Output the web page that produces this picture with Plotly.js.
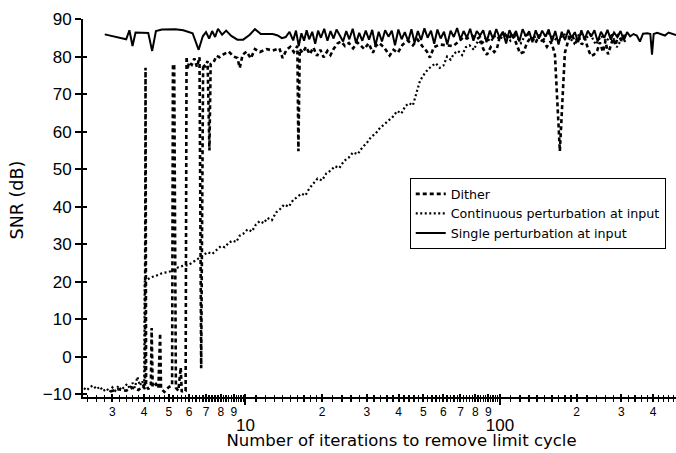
<!DOCTYPE html>
<html>
<head>
<meta charset="utf-8">
<script src="https://cdn.plot.ly/plotly-3.0.1.min.js"></script>
<style>html,body{margin:0;padding:0;background:#fff;}#chart{width:676px;height:453px;}</style>
</head>
<body>
<div id="chart"></div>
<script>
// ---- Data ----
const seriesNames = ["Dither", "Continuous perturbation at input", "Single perturbation at input"];

const ditherX = [2.95,3.15,3.4,3.6,3.8,3.95,4.03,4.05,4.07,4.15,4.25,4.28,4.32,4.45,4.55,4.62,4.66,4.8,5.0,5.15,5.19,5.25,5.33,5.45,5.57,5.62,5.75,5.82,5.87,5.92,6.0,6.15,6.3,6.45,6.6,6.7,6.82,6.95,7.1,7.22,7.3,7.5,7.7,7.9,8.2,8.6,9.0,9.3,9.5,9.75,10.1,10.5,10.9,11.4,12.1,12.8,13.6,14.0,14.5,15.0,15.5,16.0,16.15,16.35,16.8,17.3,17.9,18.5,19.1,19.7,20.3,21.0,21.6,22.2,23.0,23.8,24.6,25.5,26.5,27.5,28.3,29.3,30.5,31.7,32.5,33.5,35.0,36.9,38.2,39.7,41.5,43.5,45.5,47.5,49.5,51.7,53.1,55.0,58.1,61.5,65.4,69.0,72.0,74.2,78.0,81.0,83.5,86.0,88.9,92.0,95.0,97.3,100,104,108,112,116,120,124,128,133,138,143,148,153,158,162,164.5,172,180,186,192,198,204,210,216,222,228,234,241,247,254,260,266,271,278,285,292,300,308,318];
const ditherY = [-9.2,-8.6,-9.0,-8.2,-8.8,-7.8,-8.5,77.0,-7.0,-8.6,-7.4,7.7,-8.0,-7.2,-8.3,6.3,-8.5,-9.3,-8.0,-7.6,78.0,77.5,-8.2,-9.0,-2.8,-9.3,-8.6,-8.8,80.0,76.5,78.5,77.8,79.5,77.2,79.8,-3.0,78.0,77.2,78.8,55.0,78.0,78.5,80.2,79.8,80.6,81.3,80.0,79.6,77.0,80.5,81.3,79.5,82.0,81.2,82.0,81.6,82.2,79.6,81.8,82.6,81.2,82.8,54.8,82.0,81.0,82.6,80.6,82.4,80.2,81.8,79.8,81.5,80.4,82.0,83.5,84.0,82.8,83.6,82.2,83.8,83.0,82.0,83.5,81.0,82.8,83.6,82.5,80.3,81.8,81.0,83.2,84.2,83.0,84.5,82.8,81.3,79.7,82.5,83.2,83.0,82.8,84.0,85.2,84.8,85.5,84.6,85.2,82.0,80.5,82.5,81.2,82.0,85.5,86.5,84.6,86.2,83.5,80.8,81.2,83.8,85.2,83.6,85.8,84.2,82.6,84.0,82.2,80.5,54.8,81.0,84.5,85.8,83.6,85.2,83.2,84.8,82.0,80.2,80.5,81.5,83.8,81.2,84.2,80.6,82.4,84.8,83.0,86.0,84.2,85.5,84.8];

const contX = [2.32,2.38,2.45,2.52,2.6,2.68,2.76,2.85,2.93,3.0,3.08,3.17,3.25,3.34,3.43,3.52,3.6,3.68,3.76,3.85,3.93,4.0,4.02,4.1,4.25,4.45,4.7,4.95,5.2,5.45,5.7,5.95,6.2,6.5,6.8,7.1,7.4,7.7,8.0,8.3,8.6,8.9,9.2,9.5,9.8,10.2,10.6,11.0,11.4,11.8,12.2,12.7,13.2,13.7,14.2,14.8,15.4,16.0,16.6,17.2,17.8,18.5,19.2,20.0,20.8,21.6,22.5,23.4,24.4,25.4,26.5,27.6,28.8,30.0,31.2,32.5,33.8,35.2,36.6,38.0,39.5,41.0,42.5,44.0,45.5,47.0,48.5,50.0,52.0,54.0,56.0,58.0,60.0,62.0,64.0,66.0,68.5,71.0,73.5,76.0,79.0,82.0,85.0,88.0,92.0,96.0,100,105,110,115,121,127,133,140,147,154,162,170,178,187,196,206,216,227,238,250,262,275,288,302,317];
const contY = [-8.3,-8.9,-8.0,-7.6,-8.6,-7.9,-9.1,-8.4,-9.4,-8.1,-9.0,-7.7,-8.8,-8.0,-7.2,-8.5,-6.9,-8.2,-5.3,-7.6,-6.4,-8.2,20.0,20.5,21.2,21.6,22.3,22.6,23.0,23.9,24.3,24.4,25.3,26.1,27.0,27.9,27.4,28.6,29.5,29.2,30.4,31.0,30.6,32.3,32.8,34.0,33.4,35.3,36.2,35.6,37.0,36.4,38.5,39.4,40.6,40.0,41.8,42.6,43.5,43.0,44.8,46.2,47.5,47.0,48.9,49.6,50.8,50.3,52.2,53.0,54.5,54.0,55.8,57.0,58.6,59.5,61.0,62.0,63.0,64.0,65.5,64.8,66.8,67.6,67.0,70.5,73.5,75.0,76.5,77.5,78.2,77.0,77.6,80.0,79.2,80.8,81.5,80.4,82.5,83.0,81.8,84.2,83.4,85.0,84.0,85.6,84.6,86.0,84.2,85.8,83.6,86.2,84.8,85.5,83.9,86.4,85.0,84.1,86.0,85.2,83.5,86.3,84.7,85.9,83.2,85.5,84.0,86.2,82.5,84.8,83.5];

const singleX = [2.8,3.4,3.5,3.6,3.7,4.15,4.3,4.45,4.7,5.3,5.7,6.2,6.55,6.8,7.0,7.2,7.4,7.6,7.8,8.1,8.4,8.8,9.3,9.8,10.4,10.9,11.5,12.2,12.8,13.4,13.9,14.4,14.9,15.4,15.8,16.2,16.6,17.0,17.4,17.8,18.3,18.8,19.3,19.8,20.4,21.0,21.6,22.2,22.8,23.5,24.2,24.9,25.6,26.4,27.2,28.0,28.8,29.7,30.6,31.5,32.4,33.4,34.4,35.4,36.5,37.6,38.7,39.9,41.1,42.3,43.6,44.9,46.2,47.6,49.0,50.5,52.0,53.6,55.2,56.8,58.5,60.3,62.1,64.0,65.9,67.9,69.9,72.0,74.2,76.4,78.7,81.1,83.5,86.0,88.6,91.3,94.0,96.8,99.7,102.7,105.8,109,112.3,115.7,119.2,122.8,126.5,130.3,134.2,138.2,142.3,146.6,151,155.5,160.2,165,170,175,180.3,185.7,191.3,197,203,209,215.3,221.7,228.4,235.2,242.3,249.6,257,264.7,272.7,280.9,289.3,298,306.9,316,325,335,345,355,365,380,390,396,402,415,430,445,460,475,492];
const singleY = [85.9,84.6,87.0,82.8,86.4,86.3,81.5,86.8,87.2,87.3,87.0,86.2,81.8,85.4,86.5,84.8,86.8,85.2,87.4,85.8,86.9,85.5,84.5,84.5,85.8,87.3,86.0,86.1,86.0,85.6,84.9,85.2,86.6,84.3,86.9,82.8,86.2,84.2,87.0,84.6,86.6,83.4,86.9,85.0,87.4,84.2,86.8,84.8,87.2,85.6,84.0,86.8,84.6,87.4,83.6,86.3,84.2,86.9,84.5,87.1,82.9,86.6,84.0,87.0,85.3,86.9,83.0,87.2,84.6,86.5,84.1,87.3,83.7,86.8,84.4,87.5,85.0,86.9,83.4,87.2,84.8,86.6,83.2,86.9,85.2,87.6,84.6,86.8,85.0,87.4,84.2,86.8,85.6,87.0,83.8,86.9,84.7,87.3,85.0,86.6,83.5,87.0,85.2,86.8,84.0,87.3,85.4,86.7,83.8,87.0,84.8,86.9,85.3,87.2,84.0,86.8,83.2,86.6,84.4,87.1,85.0,86.5,83.8,87.0,84.6,86.9,85.3,87.0,84.0,86.6,85.0,87.1,84.5,86.4,85.2,86.8,84.3,86.5,85.4,86.0,85.6,84.0,86.1,86.2,86.0,80.5,86.0,86.3,86.0,85.6,86.4,86.0,85.7];

// ---- Axis tick labels ----
const yTickVals = [-10,0,10,20,30,40,50,60,70,80,90];
const xTickVals = [3,4,5,6,7,8,9,20,30,40,50,60,70,80,90,200,300,400];
const xTickText = ["3","4","5","6","7","8","9","2","3","4","5","6","7","8","9","2","3","4"];
const xDecadeVals = [10,100];
const xDecadeText = ["10","100"];
const xTitle = "Number of iterations to remove limit cycle";
const yTitle = "SNR (dB)";

// minor tick positions (axis furniture only): 1x-2x every 0.1 decade, 2x-10x every 0.2 decade
const xMinor = [];
[1, 10, 100].forEach(d => {
  for (let k = 11; k < 20; k++) xMinor.push(k * d / 10);
  for (let k = 22; k < 100; k += 2) if (k % 10 !== 0) xMinor.push(k * d / 10);
});

const FONT = "Liberation Sans, Arial, Helvetica, sans-serif";
const WIDE = "DejaVu Sans, Verdana, sans-serif";
const xRange = [Math.log10(2.3), Math.log10(492)];
const yRange = [-10.67, 90];

const traces = [
  {x: ditherX, y: ditherY, name: seriesNames[0], mode: "lines", type: "scatter",
   line: {color: "#000", width: 2.6, dash: "4px,3px"}},
  {x: contX, y: contY, name: seriesNames[1], mode: "lines", type: "scatter",
   line: {color: "#000", width: 2.2, dash: "2px,2.5px"}},
  {x: singleX, y: singleY, name: seriesNames[2], mode: "lines", type: "scatter",
   line: {color: "#000", width: 2}}
];
["x2","x3","x4","x5","x6"].forEach(a => traces.push({x: [], y: [], xaxis: a, yaxis: "y", showlegend: false, hoverinfo: "skip", type: "scatter"}));
["y2","y3"].forEach(a => traces.push({x: [], y: [], xaxis: "x", yaxis: a, showlegend: false, hoverinfo: "skip", type: "scatter"}));

function overlayX(extra) {
  return Object.assign({
    type: "log", range: xRange, autorange: false, overlaying: "x", anchor: "y", side: "bottom",
    showgrid: false, zeroline: false, showline: false, showticklabels: false,
    tickmode: "array", tickcolor: "#000"
  }, extra);
}

const layout = {
  width: 676, height: 453,
  margin: {l: 83, r: 0, t: 19, b: 56},
  paper_bgcolor: "#fff", plot_bgcolor: "rgba(0,0,0,0)",
  font: {family: FONT, color: "#000", size: 12},
  showlegend: true,
  legend: {x: 0.551, y: 0.579, xanchor: "left", yanchor: "top",
    bgcolor: "#fff", bordercolor: "#000", borderwidth: 1,
    font: {family: WIDE, size: 12.7, color: "#000"}, itemwidth: 30, tracegroupgap: 0},
  xaxis: {
    type: "log", range: xRange, autorange: false,
    showgrid: false, zeroline: false, showline: true, linecolor: "#000", linewidth: 2,
    tickmode: "array", tickvals: xTickVals, ticktext: xTickText,
    ticks: "outside", ticklen: 3, tickwidth: 2, tickcolor: "#000",
    tickfont: {family: FONT, size: 12, color: "#000"}
  },
  xaxis2: overlayX({tickvals: xTickVals.concat(xDecadeVals), ticks: "inside", ticklen: 3, tickwidth: 2}),
  xaxis3: overlayX({
    tickvals: xDecadeVals, ticktext: xDecadeText, showticklabels: true,
    ticks: "outside", ticklen: 7, tickwidth: 2, ticklabelstandoff: 6,
    tickfont: {family: FONT, size: 17, color: "#000"}
  }),
  xaxis4: overlayX({tickvals: xMinor, ticks: "outside", ticklen: 3.5, tickwidth: 1.4}),
  xaxis5: overlayX({tickvals: xMinor, ticks: "inside", ticklen: 2, tickwidth: 1.4}),
  // free axis carrying only the x title (its domain centres the title where the reference has it)
  xaxis6: {domain: [0.0742, 1], anchor: "y", range: [0, 1], showgrid: false, zeroline: false,
    showline: false, showticklabels: false, ticks: "",
    title: {text: xTitle, font: {family: WIDE, size: 16.5, color: "#000"}, standoff: 37}},
  yaxis: {
    range: yRange, autorange: false,
    showgrid: false, zeroline: false, showline: true, linecolor: "#000", linewidth: 2,
    tickmode: "array", tickvals: yTickVals,
    ticks: "outside", ticklen: 6, tickwidth: 2, tickcolor: "#000",
    tickfont: {family: FONT, size: 17, color: "#000"}
  },
  yaxis2: {
    range: yRange, autorange: false, overlaying: "y", anchor: "x", side: "left",
    showgrid: false, zeroline: false, showline: false, showticklabels: false,
    tickmode: "array", tickvals: yTickVals,
    ticks: "inside", ticklen: 4, tickwidth: 2, tickcolor: "#000"
  },
  // free axis carrying only the y title
  yaxis3: {domain: [0.042, 1], anchor: "x", side: "left", range: [0, 1], showgrid: false, zeroline: false,
    showline: false, showticklabels: false, ticks: "",
    title: {text: yTitle, font: {family: WIDE, size: 17.5, color: "#000"}, standoff: 53}}
};

Plotly.newPlot("chart", traces, layout, {displayModeBar: false, staticPlot: true});
</script>
</body>
</html>
